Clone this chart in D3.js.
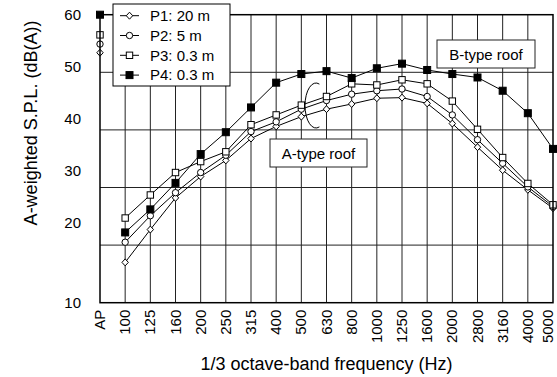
<!DOCTYPE html>
<html><head><meta charset="utf-8">
<script src="https://cdn.jsdelivr.net/npm/d3@7"></script>
<style>html,body{margin:0;padding:0;background:#fff}svg{display:block}</style>
</head><body><svg id="c" width="557" height="377"></svg>
<script>
const categories = ["AP","100","125","160","200","250","315","400","500","630","800","1000","1250","1600","2000","2800","3160","4000","5000"];
const p1 = [53.4, 17.0, 22.7, 28.2, 31.9, 34.7, 38.5, 40.6, 42.3, 43.6, 44.5, 45.5, 45.6, 44.6, 41.1, 37.0, 33.0, 29.6, 26.4];
const p2 = [54.9, 20.5, 25.1, 29.1, 32.6, 35.6, 39.7, 41.4, 43.6, 45.1, 46.2, 46.8, 47.1, 45.8, 42.6, 38.3, 34.2, 30.1, 26.7];
const p3 = [56.5, 24.7, 28.7, 32.6, 34.5, 36.2, 40.9, 42.6, 44.3, 45.8, 48.0, 47.8, 48.7, 48.0, 45.0, 40.1, 35.2, 30.7, 27.0];
const p4 = [60.0, 22.2, 26.2, 30.8, 35.8, 39.6, 43.9, 48.2, 49.7, 50.2, 49.0, 50.7, 51.5, 50.4, 49.7, 49.1, 46.8, 42.9, 36.7];
const seriesNames = ["P1: 20 m","P2: 5 m","P3: 0.3 m","P4: 0.3 m"];
const yTicks = [10,20,30,40,50,60];
const gridValues = [20,30,40,50];

const FONT = "'Liberation Sans', Arial, sans-serif";
const W = 557;
const svg = d3.select("#c");
const L = 100, R = 553, T = 14.7, B = 302.7;
const x = d3.scalePoint().domain(categories).range([L, R]);
const y = d3.scaleLinear().domain([10, 60]).range([B, T]);
// tick labels in the reference sit at slightly different heights than the grid
const yLab = d3.scaleLinear().domain([10, 20, 60]).range([303, 222.5, 15]);

// grid
svg.append("g").selectAll("line.v").data(categories.slice(1, -1)).join("line")
  .attr("x1", d => x(d)).attr("x2", d => x(d)).attr("y1", T).attr("y2", B)
  .attr("stroke", "#222").attr("stroke-width", 1);
svg.append("g").selectAll("line.h").data(gridValues).join("line")
  .attr("x1", L).attr("x2", R).attr("y1", d => y(d)).attr("y2", d => y(d))
  .attr("stroke", "#222").attr("stroke-width", 1);

// axes labels
const xa = svg.append("g").attr("transform", `translate(0,${B})`)
  .call(d3.axisBottom(x).tickSize(0).tickPadding(0));
xa.select(".domain").remove();
xa.selectAll("text").attr("font-family", FONT).attr("font-size", 15).attr("fill", "#000")
  .attr("text-anchor", "end").attr("dy", null)
  .attr("transform", d => `translate(${Math.min(4.5, W - 4.5 - x(d))},7) rotate(-90)`).attr("x", 0).attr("y", 0);

const ya = svg.append("g").attr("transform", `translate(81,0)`)
  .call(d3.axisLeft(yLab).tickValues(yTicks).tickSize(0).tickPadding(0).tickFormat(d3.format("d")));
ya.select(".domain").remove();
ya.selectAll("text").attr("font-family", FONT).attr("font-size", 15).attr("fill", "#000");

svg.append("text").attr("x", 326.5).attr("y", 370).attr("text-anchor", "middle")
  .attr("font-family", FONT).attr("font-size", 18).text("1/3 octave-band frequency (Hz)");
svg.append("text").attr("transform", "translate(37,123) rotate(-90)").attr("text-anchor", "middle")
  .attr("font-family", FONT).attr("font-size", 18).text("A-weighted S.P.L. (dB(A))");

// series
const series = [p1, p2, p3, p4];
const shapes = ["diamond", "circle", "square", "fsquare"];
function marker(g, shape, cx, cy) {
  if (shape === "diamond") {
    g.append("path").attr("d", `M${cx},${cy-3.5}L${cx+3.2},${cy}L${cx},${cy+3.5}L${cx-3.2},${cy}Z`)
      .attr("fill", "#fff").attr("stroke", "#000").attr("stroke-width", 1);
  } else if (shape === "circle") {
    g.append("circle").attr("cx", cx).attr("cy", cy).attr("r", 3.2)
      .attr("fill", "#fff").attr("stroke", "#000").attr("stroke-width", 1);
  } else if (shape === "square") {
    g.append("rect").attr("x", cx-3.2).attr("y", cy-3.2).attr("width", 6.4).attr("height", 6.4)
      .attr("fill", "#fff").attr("stroke", "#000").attr("stroke-width", 1);
  } else {
    g.append("rect").attr("x", cx-3.5).attr("y", cy-3.5).attr("width", 7).attr("height", 7)
      .attr("fill", "#000").attr("stroke", "#000").attr("stroke-width", 1);
  }
}
const line = d3.line().x(d => x(d.c)).y(d => y(d.v));
series.forEach((s, k) => {
  const pts = s.map((v, i) => ({c: categories[i], v}));
  svg.append("path").datum(pts.slice(1)).attr("d", line)
    .attr("fill", "none").attr("stroke", "#000").attr("stroke-width", 1);
});
series.forEach((s, k) => {
  const g = svg.append("g");
  s.forEach((v, i) => marker(g, shapes[k], x(categories[i]), y(v)));
});

// frame
svg.append("rect").attr("x", L).attr("y", T).attr("width", R - L).attr("height", B - T)
  .attr("fill", "none").attr("stroke", "#000").attr("stroke-width", 1.5);

// annotations
function box(x0, y0, w, h, label) {
  svg.append("rect").attr("x", x0).attr("y", y0).attr("width", w).attr("height", h)
    .attr("fill", "#fff").attr("stroke", "#222").attr("stroke-width", 1);
  svg.append("text").attr("x", x0 + w / 2).attr("y", y0 + h / 2 + 5.5).attr("text-anchor", "middle")
    .attr("font-family", FONT).attr("font-size", 15).text(label);
}
box(437, 40, 98, 28, "B-type roof");
box(270, 139, 97, 28, "A-type roof");
// bracket ellipse
const ecx = 316, ecy = 105.5, erx = 11, ery = 22.5;
const a0 = -72 * Math.PI / 180, a1 = 72 * Math.PI / 180;
svg.append("path")
  .attr("d", `M${ecx + erx*Math.cos(a0)},${ecy + ery*Math.sin(a0)} A${erx},${ery} 0 1 0 ${ecx + erx*Math.cos(a1)},${ecy + ery*Math.sin(a1)}`)
  .attr("fill", "none").attr("stroke", "#000").attr("stroke-width", 1);

// legend
const lg = svg.append("g");
lg.append("rect").attr("x", 113).attr("y", 4).attr("width", 117).attr("height", 82)
  .attr("fill", "#fff").attr("stroke", "#000").attr("stroke-width", 1);
seriesNames.forEach((n, k) => {
  const ly = 15.7 + k * 19.8;
  lg.append("line").attr("x1", 120).attr("x2", 139).attr("y1", ly).attr("y2", ly)
    .attr("stroke", "#000").attr("stroke-width", 1);
  marker(lg, shapes[k], 129.5, ly);
  lg.append("text").attr("x", 150).attr("y", ly + 5.3).attr("font-family", FONT)
    .attr("font-size", 15).text(n);
});
</script></body></html>
